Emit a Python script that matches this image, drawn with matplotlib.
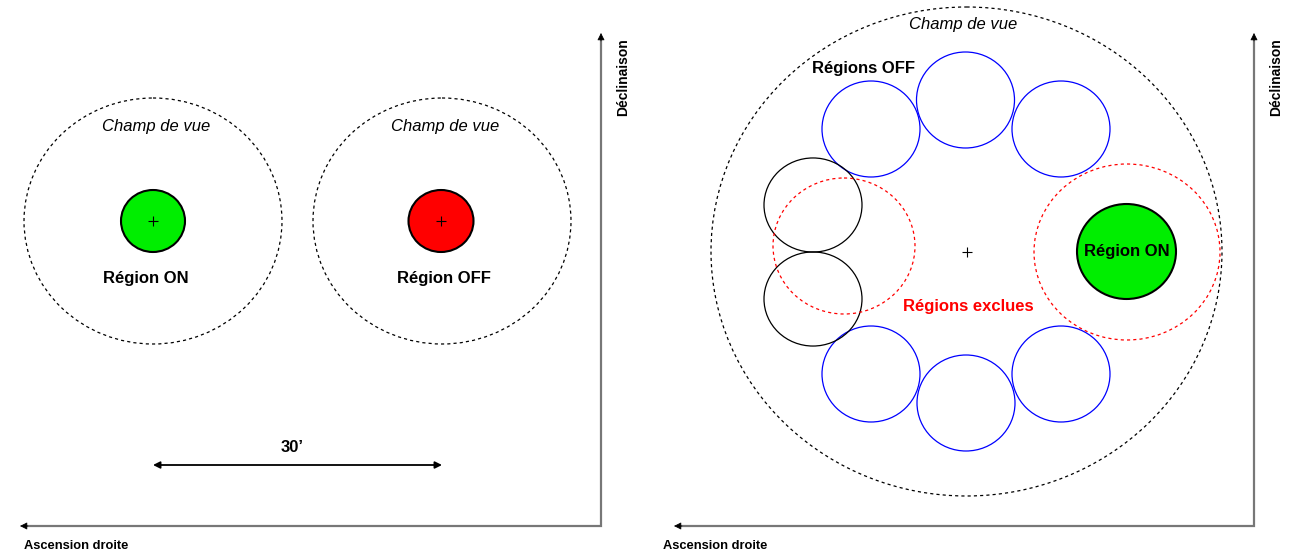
import matplotlib
matplotlib.use("Agg")
import matplotlib.pyplot as plt
from matplotlib.patches import Ellipse

plt.rcParams['font.family'] = ['Liberation Sans', 'DejaVu Sans']

W, H = 1292, 557

# ---- Left panel data (pixel-like coordinates, y downward) ----
fov_left_x = [153, 442]
fov_left_y = [221, 221]
fov_left_w = [258, 258]
fov_left_h = [246, 246]
region_left_x = [153, 441]
region_left_y = [221, 221]
region_left_w = [64, 65]
region_left_h = [62, 62]
region_left_colors = ['#00ee00', '#ff0000']
region_left_labels = ['Région ON', 'Région OFF']
scale_label = "30’"

# ---- Right panel data ----
fov_right = (966.5, 251.5, 511, 489)
off_blue_x = [871, 965.5, 1061, 871, 966, 1061]
off_blue_y = [129, 100, 129, 374, 403, 374]
off_black_x = [813, 813]
off_black_y = [205, 299]
off_w, off_h = 98, 96
excl_x = [844, 1127]
excl_y = [246, 252]
excl_w = [142, 186]
excl_h = [136, 176]
on_right = (1126.5, 251.5, 99, 95)

fig = plt.figure(figsize=(W / 100, H / 100), dpi=100)
ax = fig.add_axes([0, 0, 1, 1])
ax.set_xlim(0, W)
ax.set_ylim(H, 0)
ax.axis('off')

dash = (0, (2.5, 2.5))

def ell(x, y, w, h, **kw):
    ax.add_patch(Ellipse((x, y), w, h, **kw))

def plus(x, y):
    ax.plot([x], [y], marker='+', color='black', markersize=7, markeredgewidth=0.8)

# Left panel
for x, y, w, h in zip(fov_left_x, fov_left_y, fov_left_w, fov_left_h):
    ell(x, y, w, h, fill=False, edgecolor='black', linewidth=0.9, linestyle=dash)
    ax.text(x + 3, y - 95, 'Champ de vue', fontsize=12, style='italic', ha='center', va='center')
for x, y, w, h, c, lab in zip(region_left_x, region_left_y, region_left_w, region_left_h,
                              region_left_colors, region_left_labels):
    ell(x, y, w, h, facecolor=c, edgecolor='black', linewidth=1.5)
    plus(x, y)
    ax.text(x - 7 if lab.endswith('ON') else x + 3, y + 57, lab, fontsize=12, fontweight='bold',
            ha='center', va='center')

# 30' scale arrow
ax.annotate('', xy=(fov_left_x[0], 465), xytext=(fov_left_x[1], 465),
            arrowprops=dict(arrowstyle='<|-|>', color='black', lw=1.3, mutation_scale=10,
                            shrinkA=0, shrinkB=0))
ax.text(292, 448, scale_label, fontsize=12, fontweight='bold', ha='center', va='center')

# Right panel
fx, fy, fw, fh = fov_right
ell(fx, fy, fw, fh, fill=False, edgecolor='black', linewidth=0.9, linestyle=dash)
ax.text(963, 25, 'Champ de vue', fontsize=12, style='italic', ha='center', va='center')
plus(fx, fy)
for x, y in zip(off_blue_x, off_blue_y):
    ell(x, y, off_w, off_h, fill=False, edgecolor='#0000ff', linewidth=0.9)
for x, y in zip(off_black_x, off_black_y):
    ell(x, y, off_w, off_h * 0.98, fill=False, edgecolor='black', linewidth=0.9)
for x, y, w, h in zip(excl_x, excl_y, excl_w, excl_h):
    ell(x, y, w, h, fill=False, edgecolor='#ff0000', linewidth=0.9, linestyle=dash)
ox, oy, ow, oh = on_right
ell(ox, oy, ow, oh, facecolor='#00ee00', edgecolor='black', linewidth=1.5)
ax.text(ox, oy, 'Région ON', fontsize=12, fontweight='bold', ha='center', va='center')
ax.text(968, 307, 'Régions exclues', fontsize=12, fontweight='bold', color='#ff0000',
        ha='center', va='center')
ax.text(863, 69, 'Régions OFF', fontsize=12, fontweight='bold', ha='center', va='center')

# Coordinate axes (RA / Dec)
def coord_axes(x0, y0, xleft, ytop, label_x, label_dec_x):
    ax.plot([xleft + 6, x0, x0], [y0, y0, ytop + 6], color='#777777', linewidth=1.6,
            solid_joinstyle='miter')
    ax.annotate('', xy=(xleft, y0), xytext=(xleft + 8, y0),
                arrowprops=dict(arrowstyle='-|>', color='black', lw=0.5, mutation_scale=11,
                                shrinkA=0, shrinkB=0))
    ax.annotate('', xy=(x0, ytop), xytext=(x0, ytop + 8),
                arrowprops=dict(arrowstyle='-|>', color='black', lw=0.5, mutation_scale=11,
                                shrinkA=0, shrinkB=0))
    ax.text(label_x, 546, 'Ascension droite', fontsize=9.3, fontweight='bold', ha='left',
            va='center')
    ax.text(label_dec_x, 77, 'Déclinaison', fontsize=10, fontweight='bold', rotation=90,
            ha='center', va='center')

coord_axes(601, 526, 20, 33, 24, 623)
coord_axes(1254, 526, 674, 33, 663, 1276)

fig.savefig('out.png', dpi=100)
